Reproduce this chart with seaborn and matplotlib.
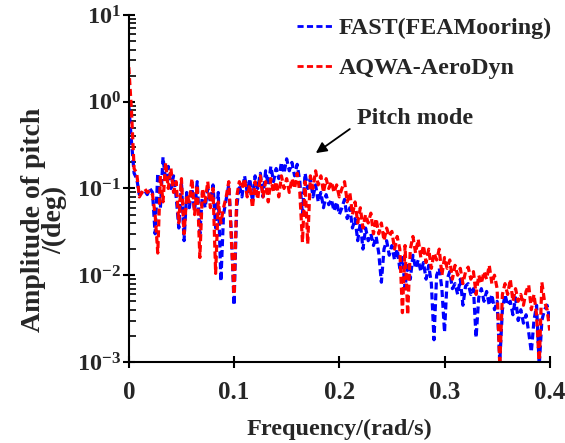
import numpy as np
import pandas as pd
import matplotlib
matplotlib.use("Agg")
import matplotlib.pyplot as plt
import seaborn as sns
from matplotlib.ticker import LogLocator, FixedLocator, NullFormatter

freq_step = 0.0025
n_points = 161
freq = [round(i * freq_step, 4) for i in range(n_points)]

fast_fea = [
    0.9, 0.35, 0.15, 0.13, 0.085, 0.09, 0.095, 0.085, 0.1, 0.09,
    0.03, 0.15, 0.06, 0.23, 0.12, 0.18, 0.1, 0.14, 0.08, 0.035,
    0.12, 0.025, 0.09, 0.06, 0.1, 0.055, 0.12, 0.03, 0.09, 0.06,
    0.1, 0.07, 0.11, 0.035, 0.09, 0.0085, 0.05, 0.075, 0.11, 0.03,
    0.0045, 0.06, 0.11, 0.08, 0.14, 0.09, 0.13, 0.07, 0.14, 0.1,
    0.15, 0.08, 0.16, 0.11, 0.18, 0.12, 0.17, 0.13, 0.2, 0.15,
    0.22, 0.16, 0.2, 0.14, 0.19, 0.12, 0.05, 0.15, 0.1, 0.13,
    0.08, 0.11, 0.07, 0.09, 0.06, 0.085, 0.065, 0.075, 0.055, 0.07,
    0.05, 0.06, 0.075, 0.045, 0.06, 0.035, 0.045, 0.025, 0.04, 0.02,
    0.035, 0.025, 0.03, 0.022, 0.028, 0.018, 0.0083, 0.02, 0.025, 0.017,
    0.022, 0.015, 0.02, 0.012, 0.016, 0.007, 0.014, 0.009, 0.017, 0.012,
    0.015, 0.011, 0.014, 0.009, 0.013, 0.008, 0.0018, 0.01, 0.012, 0.007,
    0.0022, 0.009, 0.011, 0.007, 0.008, 0.006, 0.009, 0.0045, 0.0075, 0.008,
    0.006, 0.007, 0.0019, 0.0055, 0.007, 0.005, 0.0065, 0.0045, 0.006, 0.004,
    0.005, 0.001, 0.004, 0.006, 0.0045, 0.005, 0.0035, 0.0055, 0.003, 0.004,
    0.0028, 0.0035, 0.0022, 0.0013, 0.003, 0.0045, 0.0009, 0.003, 0.004, 0.0045,
    0.003,
]

aqwa_aerodyn = [
    2.5, 0.8, 0.17, 0.15, 0.08, 0.09, 0.1, 0.09, 0.095, 0.085,
    0.05, 0.018, 0.14, 0.07, 0.2, 0.1, 0.17, 0.09, 0.12, 0.04,
    0.13, 0.03, 0.085, 0.07, 0.13, 0.05, 0.11, 0.016, 0.1, 0.07,
    0.12, 0.06, 0.1, 0.0105, 0.07, 0.04, 0.06, 0.08, 0.12, 0.025,
    0.006, 0.08, 0.12, 0.1, 0.13, 0.08, 0.11, 0.06, 0.12, 0.075,
    0.14, 0.08, 0.12, 0.07, 0.13, 0.09, 0.12, 0.08, 0.14, 0.1,
    0.13, 0.09, 0.13, 0.1, 0.15, 0.09, 0.024, 0.12, 0.023, 0.14,
    0.1, 0.16, 0.11, 0.14, 0.09, 0.13, 0.1, 0.12, 0.09, 0.11,
    0.08, 0.1, 0.12, 0.07, 0.09, 0.05, 0.07, 0.04, 0.06, 0.035,
    0.05, 0.04, 0.052, 0.03, 0.045, 0.03, 0.04, 0.025, 0.035, 0.028,
    0.032, 0.02, 0.028, 0.02, 0.0037, 0.022, 0.0035, 0.02, 0.028, 0.018,
    0.026, 0.016, 0.022, 0.014, 0.02, 0.012, 0.018, 0.015, 0.02, 0.01,
    0.016, 0.012, 0.015, 0.009, 0.013, 0.01, 0.012, 0.008, 0.011, 0.0124,
    0.009, 0.011, 0.006, 0.01, 0.008, 0.011, 0.009, 0.013, 0.008, 0.01,
    0.007, 0.0009, 0.006, 0.008, 0.006, 0.009, 0.005, 0.007, 0.005, 0.006,
    0.0045, 0.0065, 0.0077, 0.004, 0.006, 0.0035, 0.0009, 0.0083, 0.005, 0.004,
    0.0023,
]

series_names = ["FAST(FEAMooring)", "AQWA-AeroDyn"]
x_ticks = [0, 0.1, 0.2, 0.3, 0.4]
x_tick_labels = ["0", "0.1", "0.2", "0.3", "0.4"]
y_ticks = [1e-3, 1e-2, 1e-1, 1e0, 1e1]
y_exponents = ["-3", "-2", "-1", "0", "1"]

df = pd.concat([
    pd.DataFrame({"freq": freq, "amp": fast_fea, "model": series_names[0]}),
    pd.DataFrame({"freq": freq, "amp": aqwa_aerodyn, "model": series_names[1]}),
])

sns.set_style("ticks")
plt.rcParams["font.family"] = ["Liberation Serif", "DejaVu Serif"]
plt.rcParams["font.weight"] = "bold"
plt.rcParams["mathtext.fontset"] = "custom"
plt.rcParams["mathtext.rm"] = "Liberation Serif:bold"
plt.rcParams["mathtext.bf"] = "Liberation Serif:bold"
plt.rcParams["mathtext.it"] = "Liberation Serif:bold"

fig = plt.figure(figsize=(5.65, 4.43), dpi=100)
ax = fig.add_axes([0.228, 0.183, 0.745, 0.783])

dash = (0, (2.2, 1.2))
sns.lineplot(data=df, x="freq", y="amp", hue="model", hue_order=series_names,
             palette=["#0000ff", "#ff0000"], ax=ax, linewidth=2.3,
             estimator=None, sort=False)
for ln in ax.get_lines():
    ln.set_linestyle(dash)

ax.set_yscale("log")
ax.set_xlim(0, 0.4)
ax.set_ylim(1e-3, 1e1)

ax.xaxis.set_major_locator(FixedLocator(x_ticks))
ax.set_xticklabels(x_tick_labels)
ax.yaxis.set_major_locator(FixedLocator(y_ticks))
ax.set_yticklabels([r"$\mathbf{10^{%s}}$" % e for e in y_exponents])
ax.yaxis.set_minor_locator(LogLocator(base=10, subs=np.arange(2, 10), numticks=20))
ax.yaxis.set_minor_formatter(NullFormatter())

for s in ["top", "right"]:
    ax.spines[s].set_visible(False)
for s in ["left", "bottom"]:
    ax.spines[s].set_linewidth(1.5)
    ax.spines[s].set_color("black")

ax.tick_params(axis="x", which="major", direction="inout", length=9, width=1.5,
               labelsize=18, color="black", pad=9)
ax.tick_params(axis="y", which="major", direction="inout", length=9, width=1.5,
               labelsize=17.5, color="black", pad=1)
ax.tick_params(axis="y", which="minor", direction="in", length=5, width=1.2, color="black")
for lab in ax.get_xticklabels() + ax.get_yticklabels():
    lab.set_fontweight("bold")

ax.set_xlabel("Frequency/(rad/s)", fontsize=17.5, fontweight="bold", labelpad=11)
ax.set_ylabel("Amplitude of pitch\n/(deg)", fontsize=20, fontweight="bold",
              linespacing=0.82)
ax.yaxis.set_label_coords(-0.146, 0.41)

leg = ax.legend(loc="upper right", bbox_to_anchor=(1.04, 1.035), frameon=False,
                fontsize=17.3, handlelength=1.5, handletextpad=0.25,
                labelspacing=0.75, borderaxespad=0.2)
for t in leg.get_texts():
    t.set_fontweight("bold")
for h in leg.get_lines():
    h.set_linewidth(2.0)
    h.set_linestyle(dash)

ax.text(0.2717, 0.65, "Pitch mode", fontsize=17.4, fontweight="bold",
        ha="center", va="center")
ax.annotate("", xy=(0.1777, 0.256), xytext=(0.21, 0.485),
            arrowprops=dict(arrowstyle="-|>", color="black", lw=1.3,
                            mutation_scale=16, shrinkA=0, shrinkB=0))

fig.savefig("out.png", dpi=100)
